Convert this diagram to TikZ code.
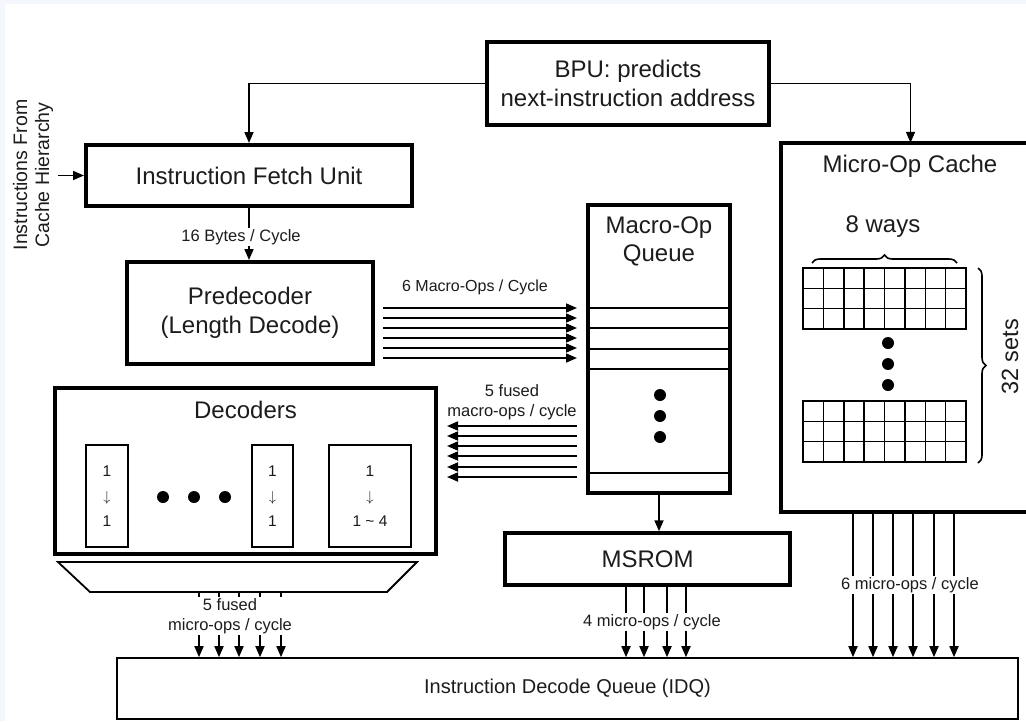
\documentclass[tikz,border=0pt]{standalone}
\usepackage{fontspec}
\setmainfont{Liberation Sans}
\usepackage{tikz}
\usetikzlibrary{arrows.meta,positioning,decorations.pathreplacing,calc}
\definecolor{pagetint}{RGB}{244,247,254}
\definecolor{inkgray}{RGB}{28,28,28}

% one block of the micro-op cache: 8 ways x 3 sets, #1 = top edge
\newcommand{\waygrid}[1]{%
  \draw[line width=1.5pt] (803,#1) rectangle (966,{#1+61});
  \foreach \i in {1,...,7}
    \draw[line width=1.5pt] ({803+20.375*\i},#1) -- ++(0,61);
  \foreach \j in {1,2}
    \draw[line width=1.5pt] (803,{#1+20.33*\j}) -- ++(163,0);
}

\tikzset{
  unit/.style={draw, line width=4pt, inner sep=0pt, align=center,
    font=\fontsize{24}{28.5}\selectfont},
  slot/.style={draw, line width=1.8pt, inner sep=0pt, align=center,
    font=\fontsize{15.5}{25}\selectfont},
  bus/.style={-{Triangle[length=11pt,width=9pt]}, line width=1.7pt},
  rate/.style={fill=white, inner sep=1.5pt, align=center,
    font=\fontsize{16.5}{19.5}\selectfont},
  qdot/.style={circle, fill=black, inner sep=0pt, minimum size=12pt},
}

\begin{document}
\begin{tikzpicture}[x=1pt, y=-1pt, every node/.append style={text=inkgray}]
    \useasboundingbox (0,0) rectangle (1026,721);
    \fill[pagetint] (0,0) rectangle (1026,721);
    \fill[white] (5,4) rectangle (1026,721);

    % front end
    \node[unit, line width=3.5pt, minimum width=282pt, minimum height=83pt] (bpu) at (628,83.5)
      {BPU: predicts\\next-instruction address};
    \node[unit, minimum width=326pt, minimum height=61pt] (ifu) at (249,175.5) {Instruction Fetch Unit};
    \node[unit, minimum width=246pt, minimum height=102pt] (pre) at (250,313) {Predecoder\\(Length Decode)};

    \node[rotate=90, align=center, font=\fontsize{19.5}{22}\selectfont] (srclbl) at (33,175)
      {Instructions From\\Cache Hierarchy};
    \coordinate (l2in) at (58,175.5);
    \draw[bus] (l2in) -- (ifu.west);

    \draw[bus] (bpu.west) -| (ifu.north);
    \draw[bus] (ifu.south) -- (ifu.south |- pre.north)
      node[rate, pos=0.56, xshift=-8pt] {16 Bytes / Cycle};

    % macro-op queue
    \node[unit, minimum width=142pt, minimum height=288pt] (moq) at (659,349) {};
    \node[font=\fontsize{24}{28}\selectfont, align=center] (moqlbl) at (659,241) {Macro-Op\\Queue};
    \foreach \y in {308,328,349,369,473}
      \draw[line width=1.8pt] (moq.west |- 0,\y) -- (moq.east |- 0,\y);
    \foreach \k in {395,416,437}
      \node[qdot] at (660,\k) {};

    \coordinate (busin) at ([xshift=8pt]pre.east);
    \coordinate (qin) at ([xshift=-9pt]moq.west);
    \foreach \y in {308,318,328,338,348,358}
      \draw[bus] (busin |- 0,\y) -- (qin |- 0,\y);
    \node[font=\fontsize{16}{19}\selectfont] (mopslbl) at (475,287) {6 Macro-Ops / Cycle};

    % decoders
    \node[unit, minimum width=381pt, minimum height=166pt] (dec) at (245.5,471) {};
    \node[font=\fontsize{24}{28}\selectfont] (declbl) at ($(dec.north)+(0,24)$) {Decoders};
    \node[slot, minimum width=42pt, minimum height=102pt] (dsimple) at (107,496) {1\\$\downarrow$\\1};
    \node[slot, minimum width=41pt, minimum height=102pt] (dlast) at (272.5,496) {1\\$\downarrow$\\1};
    \node[slot, minimum width=82pt, minimum height=102pt] (dcomplex) at (370,496) {1\\$\downarrow$\\1 \textasciitilde{} 4};
    \foreach \k in {163,194,225}
      \node[qdot] at (\k,497) {};

    \coordinate (decin) at ([xshift=9pt]dec.east);
    \foreach \y in {426,436,446,456,467,477}
      \draw[bus] (qin |- 0,\y) -- (decin |- 0,\y);
    \node[font=\fontsize{16.5}{20}\selectfont, align=center] (fusedlbl) at (512,402) {5 fused\\macro-ops / cycle};

    \draw[line width=1.8pt] (58,562) -- (417,562) -- (387,592) -- (90,592) -- cycle;
    \coordinate (muxout) at (238,592);

    % msrom and micro-op cache
    \node[unit, line width=3.5pt, minimum width=285pt, minimum height=52pt] (msrom) at (647.5,559) {MSROM};
    \draw[bus] (moq.south) -- (moq.south |- msrom.north);

    \node[minimum width=259pt, minimum height=369pt] (uop) at (910.5,327.5) {};
    \draw[line width=3.5pt] (1026,0 |- uop.north) -- (uop.north west) -- (uop.south west) -- (1026,0 |- uop.south);
    \node[font=\fontsize{24}{28}\selectfont] (uoplbl) at (910,166) {Micro-Op Cache};
    \draw[bus] (bpu.east) -| (uop.north);

    \waygrid{268}
    \waygrid{401}
    \foreach \k in {343,364,385}
      \node[qdot] at (888,\k) {};
    \draw[decorate, decoration={brace, amplitude=8pt}, line width=1.6pt] (812,263) -- (957,263);
    \node[font=\fontsize{24}{28}\selectfont] (wayslbl) at (883,227) {8 ways};
    \draw[decorate, decoration={brace, amplitude=8pt}, line width=1.6pt] (978,268) -- (978,463);
    \node[rotate=90, font=\fontsize{23.5}{28}\selectfont] (setslbl) at (1010,357) {32 sets};

    % instruction decode queue
    \node[draw, line width=1.6pt, minimum width=901pt, minimum height=61pt,
      font=\fontsize{20}{24}\selectfont] (idq) at (567.5,688.5) {Instruction Decode Queue (IDQ)};

    \foreach \x in {199,219,239,260,281}
      \draw[bus] (muxout -| \x,0) -- (idq.north -| \x,0);
    \node[rate] (declbl2) at (230,616) {5 fused\\micro-ops / cycle};

    \foreach \x in {626,644,667,686}
      \draw[bus] (msrom.south -| \x,0) -- (idq.north -| \x,0);
    \node[rate] (msromlbl) at (652,622) {4 micro-ops / cycle};

    \foreach \x in {853,873,893,913,934,954}
      \draw[bus] (uop.south -| \x,0) -- (idq.north -| \x,0);
    \node[rate] (uoprate) at (910,585) {6 micro-ops / cycle};
\end{tikzpicture}
\end{document}
